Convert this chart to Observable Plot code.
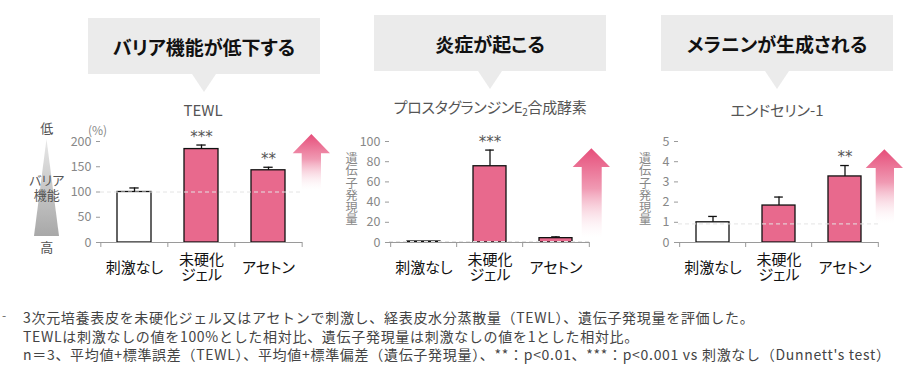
<!DOCTYPE html>
<html><head><meta charset="utf-8">
<script src="https://cdn.jsdelivr.net/npm/d3@7"></script>
<script src="https://cdn.jsdelivr.net/npm/@observablehq/plot@0.6"></script>
<style>
body{margin:0;background:#fff;}
#root{position:relative;width:910px;height:370px;overflow:hidden;font-family:"Noto Sans CJK JP","Noto Sans",sans-serif;font-feature-settings:"palt";}
.callout{position:absolute;background:#ebebeb;display:flex;align-items:center;justify-content:center;font-weight:bold;font-size:19px;color:#111;}
.callout::after{content:"";position:absolute;top:100%;left:50%;border-left:12px solid transparent;border-right:12px solid transparent;border-top:18px solid #ebebeb;transform:translateX(-50%);}
.title{position:absolute;transform:translate(-50%,-50%);font-size:15px;color:#555;white-space:nowrap;line-height:1;}
.title sub{font-size:10px;vertical-align:-3px;}
.lbl{position:absolute;transform:translate(-50%,-50%);font-size:13px;color:#555;line-height:1;white-space:nowrap;}
.ylab{position:absolute;transform:translate(-50%,-50%);writing-mode:vertical-rl;text-orientation:upright;font-size:12.2px;line-height:1;color:#888;white-space:nowrap;font-feature-settings:normal;}
.plot{position:absolute;top:95px;}
#foot{position:absolute;left:23px;top:308px;font-size:14px;line-height:18.5px;color:#444;white-space:nowrap;font-feature-settings:normal;letter-spacing:0.7px;}
#dash{position:absolute;left:2px;top:306px;font-size:12px;color:#666;}
</style></head>
<body>
<div id="root">
  <div class="callout" style="left:88px;top:18px;width:232px;height:56px;">バリア機能が低下する</div>
  <div class="callout" style="left:374px;top:15px;width:232px;height:56px;">炎症が起こる</div>
  <div class="callout" style="left:661px;top:15px;width:232px;height:56px;">メラニンが生成される</div>
  <div class="title" style="left:203px;top:109px;">TEWL</div>
  <div class="title" style="left:490px;top:108px;letter-spacing:-0.3px;">プロスタグランジンE<sub>2</sub>合成酵素</div>
  <div class="title" style="left:777px;top:109px;">エンドセリン-1</div>
  <div id="dash">-</div>
  <div id="foot"></div>
</div>
<script>
const categories = ["刺激なし", "未硬化ジェル", "アセトン"];
const tickLabels = ["刺激なし", "未硬化\nジェル", "アセトン"];

const tewlMean = [100, 185, 143];
const tewlErr = [8, 8, 6];
const tewlStars = ["", "***", "**"];
const tewlTicks = [0, 50, 100, 150, 200];

const pge2Mean = [1, 75.5, 4.3];
const pge2Err = [0, 16, 1.3];
const pge2Stars = ["", "***", ""];
const pge2Ticks = [0, 20, 40, 60, 80, 100];

const et1Mean = [1.0, 1.83, 3.27];
const et1Err = [0.29, 0.42, 0.54];
const et1Stars = ["", "", "**"];
const et1Ticks = [0, 1, 2, 3, 4, 5];

const refLines = [100, 1, 0.92];
const yLabel = "遺伝子発現量";

const footLines = [
  "3次元培養表皮を未硬化ジェル又はアセトンで刺激し、経表皮水分蒸散量（TEWL）、遺伝子発現量を評価した。",
  "TEWLは刺激なしの値を100%とした相対比、遺伝子発現量は刺激なしの値を1とした相対比。",
  "n＝3、平均値+標準誤差（TEWL）、平均値+標準偏差（遺伝子発現量）、**：p<0.01、***：p<0.001 vs 刺激なし（Dunnett's test）"
];

const PINK = "#e8698d";
const AXIS = "#9a9a9a";
const FONT = "'Noto Sans CJK JP', 'Noto Sans', sans-serif";
const root = document.getElementById("root");

function panel(o) {
  const data = categories.map((c, i) => ({cat: c, label: tickLabels[i], v: o.mean[i], e: o.err[i], s: o.stars[i], first: i === 0}));
  const W = o.width - o.mL - o.mR;
  const step = W / 3;
  const withErr = data.filter(d => d.e > 0);
  const marks = [
    Plot.barY(data, {x: "cat", y: "v", fill: d => d.first ? "white" : PINK, stroke: "#111", strokeWidth: 1.3}),
    Plot.ruleX(withErr, {x: "cat", y1: "v", y2: d => d.v + d.e, stroke: "#111", strokeWidth: 1.3}),
    Plot.tickY(withErr, {x: "cat", y: d => d.v + d.e, stroke: "#111", strokeWidth: 1.3, insetLeft: step * 0.25 - 4.5, insetRight: step * 0.25 - 4.5}),
    Plot.ruleY([o.ref], {stroke: "#e4e4e4", strokeDasharray: "4,3"}),
    Plot.text(data, {x: "cat", y: d => d.v + d.e, text: "s", dy: -8, fontSize: 15, fill: "#555", fontFamily: "DejaVu Sans", letterSpacing: 1.5}),
    Plot.ruleY([0], {stroke: AXIS}),
    Plot.ruleX(data, {x: "cat", y1: 0, y2: 0, insetBottom: -5, dx: -step / 2, stroke: AXIS}),
    Plot.ruleX([data[2]], {x: "cat", y1: 0, y2: 0, insetBottom: -5, dx: step / 2, stroke: AXIS}),
    Plot.axisY({ticks: o.ticks, tickFormat: d => String(d), tickSize: 4, tickPadding: 5, stroke: AXIS, fill: "#888", fontSize: 12.5, line: true, label: null}),
    Plot.text(data, {x: "cat", y: 0, text: "label", dy: 25, lineAnchor: "middle", fontSize: 15, lineHeight: 1.05, fill: "#111"})
  ];
  if (o.unit) marks.push(Plot.text([o.unit], {frameAnchor: "top-left", dx: -3, dy: -15, text: d => d, textAnchor: "middle", fontSize: 12, fill: "#888"}));
  const svg = Plot.plot({
    width: o.width, height: 195,
    marginLeft: o.mL, marginRight: o.mR, marginTop: 46, marginBottom: 48,
    x: {domain: categories, paddingInner: 0.5, paddingOuter: 0.25, axis: null},
    y: {domain: o.domain},
    style: {background: "transparent", overflow: "visible", fontFamily: FONT},
    marks
  });
  svg.style.left = o.left + "px";
  svg.classList.add("plot");
  root.appendChild(svg);
  if (o.ylabel) {
    const el = document.createElement("div");
    el.className = "ylab"; el.textContent = o.ylabel;
    el.style.left = (o.left + o.mL + o.ylx) + "px"; el.style.top = "188.5px";
    root.appendChild(el);
  }
}

panel({mean: tewlMean, err: tewlErr, stars: tewlStars, ticks: tewlTicks, domain: [0, 200], ref: refLines[0], left: 0, width: 305, mL: 100, mR: 3, unit: "(%)"});
panel({mean: pge2Mean, err: pge2Err, stars: pge2Stars, ticks: pge2Ticks, domain: [0, 100], ref: refLines[1], left: 300, width: 295, mL: 89, mR: 6, ylabel: yLabel, ylx: -37.5});
panel({mean: et1Mean, err: et1Err, stars: et1Stars, ticks: et1Ticks, domain: [0, 5], ref: refLines[2], left: 600, width: 300, mL: 78, mR: 22, ylabel: yLabel, ylx: -33});

// decorations
const deco = d3.select(root).append("svg").attr("width", 910).attr("height", 370)
  .style("position", "absolute").style("left", 0).style("top", 0).style("pointer-events", "none");
const defs = deco.append("defs");
const pg = defs.append("linearGradient").attr("id", "pinkGrad").attr("x1", 0).attr("y1", 0).attr("x2", 0).attr("y2", 1);
pg.append("stop").attr("offset", 0).attr("stop-color", "#e64e7a");
pg.append("stop").attr("offset", 0.45).attr("stop-color", "#f09ab3");
pg.append("stop").attr("offset", 1).attr("stop-color", "#ffffff").attr("stop-opacity", 0.2);
const gg = defs.append("linearGradient").attr("id", "grayGrad").attr("x1", 0).attr("y1", 0).attr("x2", 0).attr("y2", 1);
gg.append("stop").attr("offset", 0).attr("stop-color", "#e8e8e8");
gg.append("stop").attr("offset", 1).attr("stop-color", "#a8a8a8");

const arrows = [
  {hx0: 292.7, hx1: 330, top: 134, hb: 153.3, sx0: 301.7, sx1: 321, bottom: 190},
  {hx0: 572.7, hx1: 610, top: 148.3, hb: 167, sx0: 581.7, sx1: 601.7, bottom: 238},
  {hx0: 865.7, hx1: 903, top: 149.3, hb: 168, sx0: 875.7, sx1: 894, bottom: 223}
];
for (const a of arrows) {
  const c = (a.hx0 + a.hx1) / 2;
  deco.append("path")
    .attr("d", `M${c},${a.top}L${a.hx1},${a.hb}L${a.sx1},${a.hb}L${a.sx1},${a.bottom}L${a.sx0},${a.bottom}L${a.sx0},${a.hb}L${a.hx0},${a.hb}Z`)
    .attr("fill", "url(#pinkGrad)");
}
deco.append("path").attr("d", "M46.5,139L59,236L34,236Z").attr("fill", "url(#grayGrad)");

const lbls = [["低", 46.7, 127], ["バリア", 46.7, 179], ["機能", 46.7, 194], ["高", 46.7, 245.5]];
for (const [t, x, y] of lbls) {
  const el = document.createElement("div");
  el.className = "lbl"; el.textContent = t;
  el.style.left = x + "px"; el.style.top = y + "px";
  root.appendChild(el);
}
document.getElementById("foot").innerHTML = footLines.map(l => `<div>${l.replace(/</g, "&lt;")}</div>`).join("");
</script>
</body></html>
